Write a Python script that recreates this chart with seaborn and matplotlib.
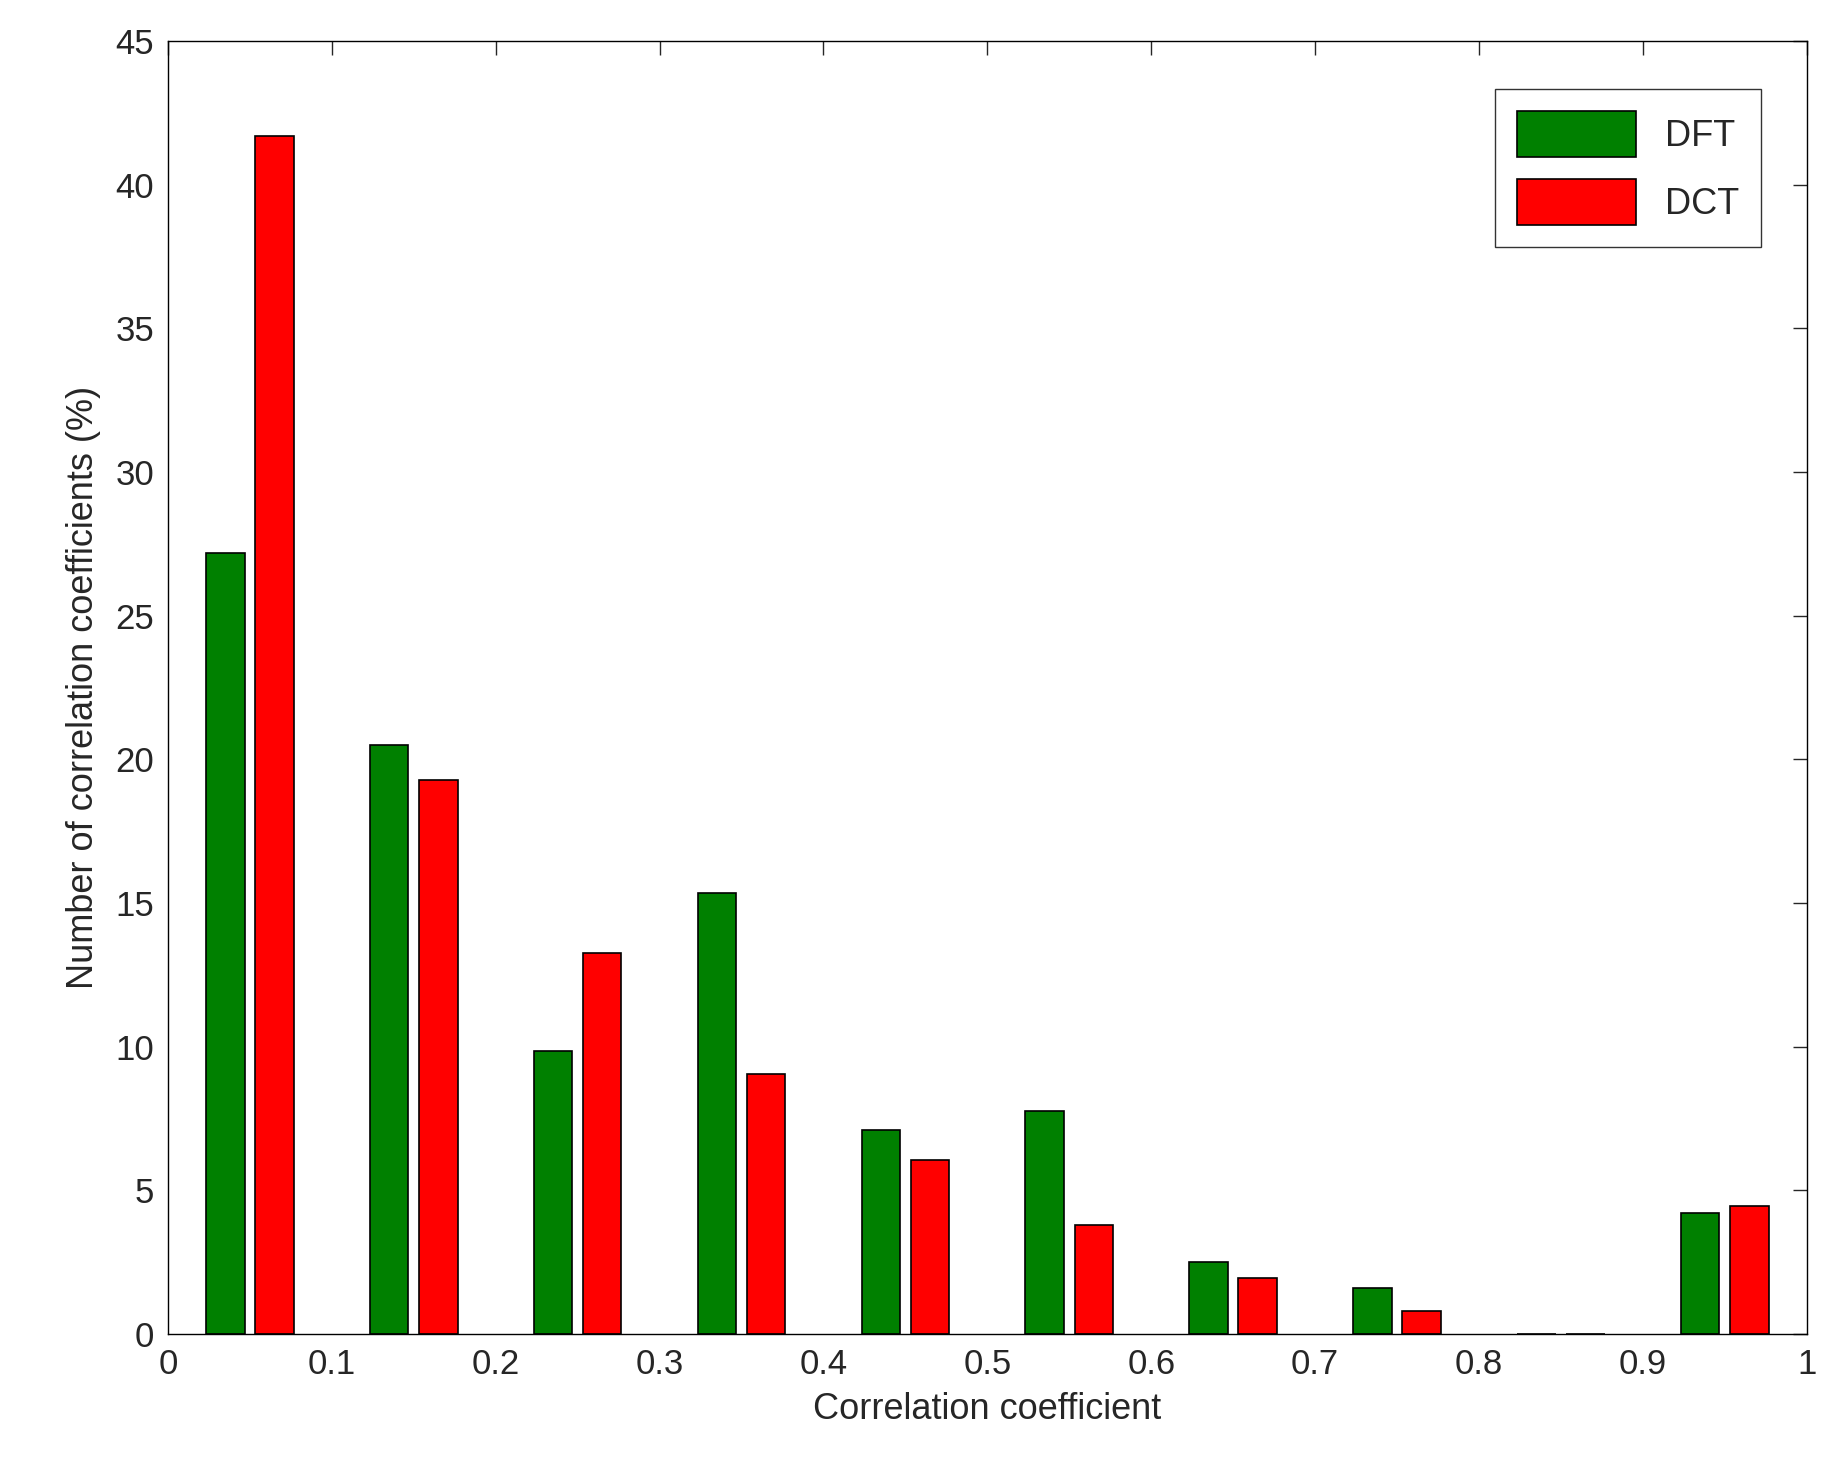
import matplotlib
matplotlib.use("Agg")
import matplotlib.pyplot as plt
import seaborn as sns
import pandas as pd
import numpy as np

centers = [0.05, 0.15, 0.25, 0.35, 0.45, 0.55, 0.65, 0.75, 0.85, 0.95]
dft = [27.2, 20.5, 9.85, 15.35, 7.1, 7.75, 2.5, 1.6, 0.0, 4.2]
dct = [41.7, 19.3, 13.25, 9.05, 6.05, 3.8, 1.95, 0.8, 0.0, 4.45]
offset = 0.015

sns.set_style("white")
plt.rcParams['font.family'] = ['Liberation Sans', 'DejaVu Sans']

fig = plt.figure(figsize=(18.25, 14.66), dpi=100)
ax = fig.add_axes([0.092, 0.09, 0.898, 0.882])

df1 = pd.DataFrame({"x": np.array(centers) - offset, "y": dft})
df2 = pd.DataFrame({"x": np.array(centers) + offset, "y": dct})
sns.barplot(data=df1, x="x", y="y", native_scale=True, width=0.235, color="#008000",
            saturation=1, edgecolor="black", linewidth=1.2, ax=ax, label="DFT")
sns.barplot(data=df2, x="x", y="y", native_scale=True, width=0.235, color="#ff0000",
            saturation=1, edgecolor="black", linewidth=1.2, ax=ax, label="DCT")

ax.set_xlim(0, 1)
ax.set_ylim(0, 45)
ax.set_xticks(np.arange(0, 1.01, 0.1))
ax.set_xticklabels(["0", "0.1", "0.2", "0.3", "0.4", "0.5", "0.6", "0.7", "0.8", "0.9", "1"])
ax.set_yticks(np.arange(0, 46, 5))
ax.tick_params(direction="in", length=10, width=1, labelsize=25, top=True, right=True, pad=10)
for s in ax.spines.values():
    s.set_color("black"); s.set_linewidth(1)
ax.set_xlabel("Correlation coefficient", fontsize=26, labelpad=8)
ax.set_ylabel("Number of correlation coefficients (%)", fontsize=26, labelpad=10)
leg = ax.legend(loc="upper right", fontsize=26, fancybox=False, edgecolor="black",
                handlelength=3.3, handleheight=1.6, borderpad=0.6, labelspacing=0.6,
                bbox_to_anchor=(0.983, 0.977))
leg.get_frame().set_linewidth(1)
fig.savefig("out.png", dpi=100)
